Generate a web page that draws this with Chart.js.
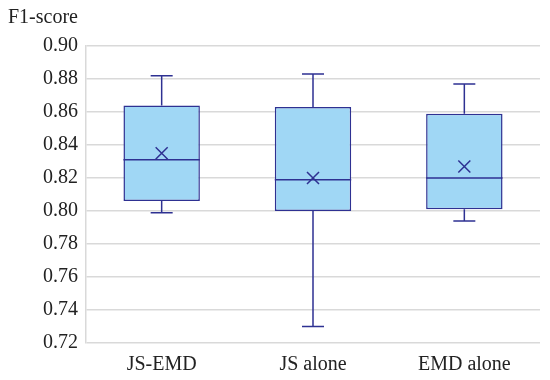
<!DOCTYPE html>
<html>
<head>
<meta charset="utf-8">
<script src="https://cdn.jsdelivr.net/npm/chart.js@4"></script>
<style>
  html, body { margin: 0; padding: 0; background: #fff; }
  #wrap { width: 550px; height: 380px; }
</style>
</head>
<body>
<div id="wrap"><canvas id="canvas"></canvas></div>
<script>
const labels = ['JS-EMD', 'JS alone', 'EMD alone'];

var whiskerMin = [0.799, 0.730, 0.794];
var q1 = [0.806, 0.800, 0.801];
var median = [0.831, 0.819, 0.820];
var q3 = [0.864, 0.863, 0.859];
var whiskerMax = [0.882, 0.883, 0.877];
var mean = [0.835, 0.820, 0.827];

const navy = 'rgb(46, 49, 146)';
const fillBlue = 'rgb(160, 215, 245)';
const gridGray = '#d9d9d9';
const serifFont = { family: 'Liberation Serif', size: 20 };

Chart.defaults.font.family = 'Liberation Serif';
Chart.defaults.font.size = 20;
Chart.defaults.color = '#222';

// whiskers and median line, drawn on top of the box bars
const boxLines = {
  id: 'boxLines',
  afterDatasetsDraw(chart) {
    const ctx = chart.ctx;
    const y = chart.scales.y;
    const bars = chart.getDatasetMeta(0).data;
    ctx.save();
    ctx.strokeStyle = navy;
    ctx.lineWidth = 1.5;
    bars.forEach(function(bar, i) {
      const x = bar.x, half = bar.width / 2, cap = 11;
      ctx.beginPath();
      // median
      ctx.moveTo(x - half, y.getPixelForValue(median[i]));
      ctx.lineTo(x + half, y.getPixelForValue(median[i]));
      // upper whisker
      ctx.moveTo(x, y.getPixelForValue(q3[i]));
      ctx.lineTo(x, y.getPixelForValue(whiskerMax[i]));
      ctx.moveTo(x - cap, y.getPixelForValue(whiskerMax[i]));
      ctx.lineTo(x + cap, y.getPixelForValue(whiskerMax[i]));
      // lower whisker
      ctx.moveTo(x, y.getPixelForValue(q1[i]));
      ctx.lineTo(x, y.getPixelForValue(whiskerMin[i]));
      ctx.moveTo(x - cap, y.getPixelForValue(whiskerMin[i]));
      ctx.lineTo(x + cap, y.getPixelForValue(whiskerMin[i]));
      ctx.stroke();
    });
    ctx.restore();
  }
};

new Chart(document.getElementById('canvas'), {
  type: 'bar',
  data: {
    labels: labels,
    datasets: [{
      label: 'box',
      data: q1.map(function(v, i) { return [v, q3[i]]; }),
      backgroundColor: fillBlue,
      borderColor: navy,
      borderWidth: 1.5,
      borderSkipped: false,
      categoryPercentage: 1,
      barPercentage: 0.505,
      order: 2
    }, {
      type: 'line',
      label: 'mean',
      data: mean,
      showLine: false,
      pointStyle: 'crossRot',
      pointRadius: 8.5,
      pointBorderWidth: 1.5,
      borderColor: navy,
      backgroundColor: navy,
      order: 1
    }]
  },
  options: {
    responsive: true,
    maintainAspectRatio: false,
    animation: false,
    layout: { padding: { left: 8, right: 7, top: 6, bottom: 5 } },
    plugins: {
      legend: { display: false },
      tooltip: { enabled: false },
      title: {
        display: true,
        text: 'F1-score',
        align: 'start',
        font: { family: 'Liberation Serif', size: 20, weight: 'normal' },
        padding: { top: 0, bottom: 16 }
      }
    },
    scales: {
      x: {
        afterFit: function(s) { s.height = 32; },
        grid: { display: false },
        border: { display: false },
        ticks: { padding: 2, font: serifFont, maxRotation: 0 }
      },
      y: {
        min: 0.72,
        max: 0.90,
        afterFit: function(s) { s.width = 78; },
        grid: { color: gridGray, lineWidth: 1.5, drawTicks: false },
        border: { color: gridGray, width: 1.5 },
        ticks: {
          stepSize: 0.02,
          padding: 8,
          font: serifFont,
          callback: function(v) { return v.toFixed(2); }
        }
      }
    }
  },
  plugins: [boxLines]
});
</script>
</body>
</html>
